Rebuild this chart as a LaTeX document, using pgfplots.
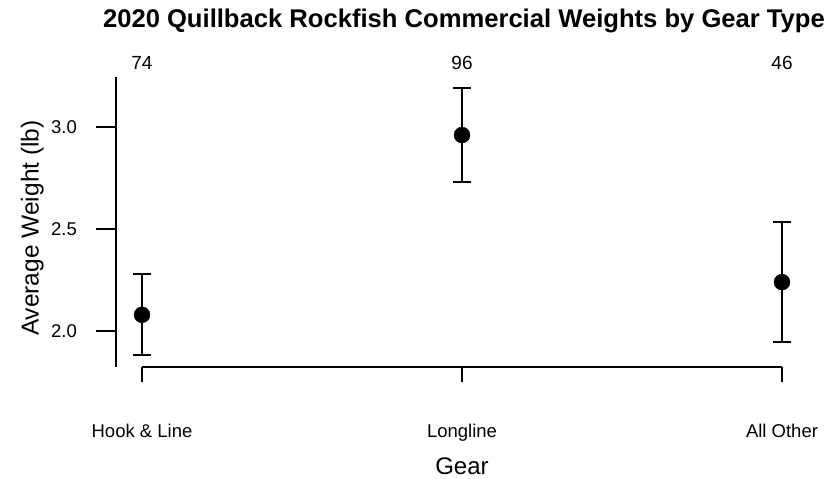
\documentclass[border=0pt]{standalone}
\usepackage{fontspec}
\setmainfont{Liberation Sans}
\usepackage{pgfplots}
\pgfplotsset{compat=1.18}
\usepackage{pgfplotstable}

\pgfplotstableread{
x y ep em
0 2.080 0.200 0.198
1 2.961 0.229 0.231
2 2.240 0.294 0.294
}\gear

\begin{document}
\begin{tikzpicture}
\useasboundingbox (0,0) rectangle (825bp,-479bp);
\begin{axis}[
 at={(116bp,-367bp)}, anchor=south west,
 scale only axis, width=698bp, height=289.9bp,
 xmin=-0.08125, xmax=2.1, ymin=1.824, ymax=3.245,
 clip=false,
 axis line style={draw=none},
 major tick length=0pt,
 tick style={draw=none},
 xtick={0,1,2}, xticklabels={Hook \& Line, Longline, All Other},
 ytick={2,2.5,3}, yticklabels={2.0,2.5,3.0},
 xticklabel style={anchor=base, inner sep=0pt, yshift=-70bp, font=\fontsize{18.5bp}{22bp}\selectfont},
 yticklabel style={anchor=east, inner sep=0pt, xshift=-39bp, font=\fontsize{18.5bp}{22bp}\selectfont},
 title={2020 Quillback Rockfish Commercial Weights by Gear Type},
 title style={at={(0.4985,1)}, anchor=base, inner sep=0pt, yshift=44bp, font=\bfseries\fontsize{25.6bp}{30bp}\selectfont},
 xlabel={Gear},
 xlabel style={at={(0.4957,0)}, anchor=base, inner sep=0pt, yshift=-107.6bp, font=\fontsize{24bp}{28bp}\selectfont},
 ylabel={Average Weight (lb)},
 ylabel style={at={(-0.1109,0.479)}, anchor=base, inner sep=0pt, font=\fontsize{24.5bp}{28bp}\selectfont},
]
\draw[line width=2.1bp] (axis cs:-0.08125,1.824) -- (axis cs:-0.08125,3.245);
\draw[line width=2.1bp] (axis cs:0,1.824) -- (axis cs:2,1.824);
\draw[line width=2.1bp] (axis cs:0,1.824) -- (axis cs:0,1.7505);
\draw[line width=2.1bp] (axis cs:1,1.824) -- (axis cs:1,1.7505);
\draw[line width=2.1bp] (axis cs:2,1.824) -- (axis cs:2,1.7505);
\draw[line width=2.1bp] (axis cs:-0.08125,2) -- (axis cs:-0.14375,2);
\draw[line width=2.1bp] (axis cs:-0.08125,2.5) -- (axis cs:-0.14375,2.5);
\draw[line width=2.1bp] (axis cs:-0.08125,3) -- (axis cs:-0.14375,3);
\addplot[black, only marks, mark=*, mark size=8bp,
  error bars/.cd, y dir=both, y explicit,
  error bar style={line width=2.1bp},
  error mark options={rotate=90, mark size=9bp, line width=2.1bp}]
  table[x=x, y=y, y error plus=ep, y error minus=em] {\gear};
\node[anchor=base, inner sep=0pt, font=\fontsize{19bp}{22bp}\selectfont, yshift=8bp] at (axis cs:0,3.245) {74};
\node[anchor=base, inner sep=0pt, font=\fontsize{19bp}{22bp}\selectfont, yshift=8bp] at (axis cs:1,3.245) {96};
\node[anchor=base, inner sep=0pt, font=\fontsize{19bp}{22bp}\selectfont, yshift=8bp] at (axis cs:2,3.245) {46};
\end{axis}
\end{tikzpicture}
\end{document}
